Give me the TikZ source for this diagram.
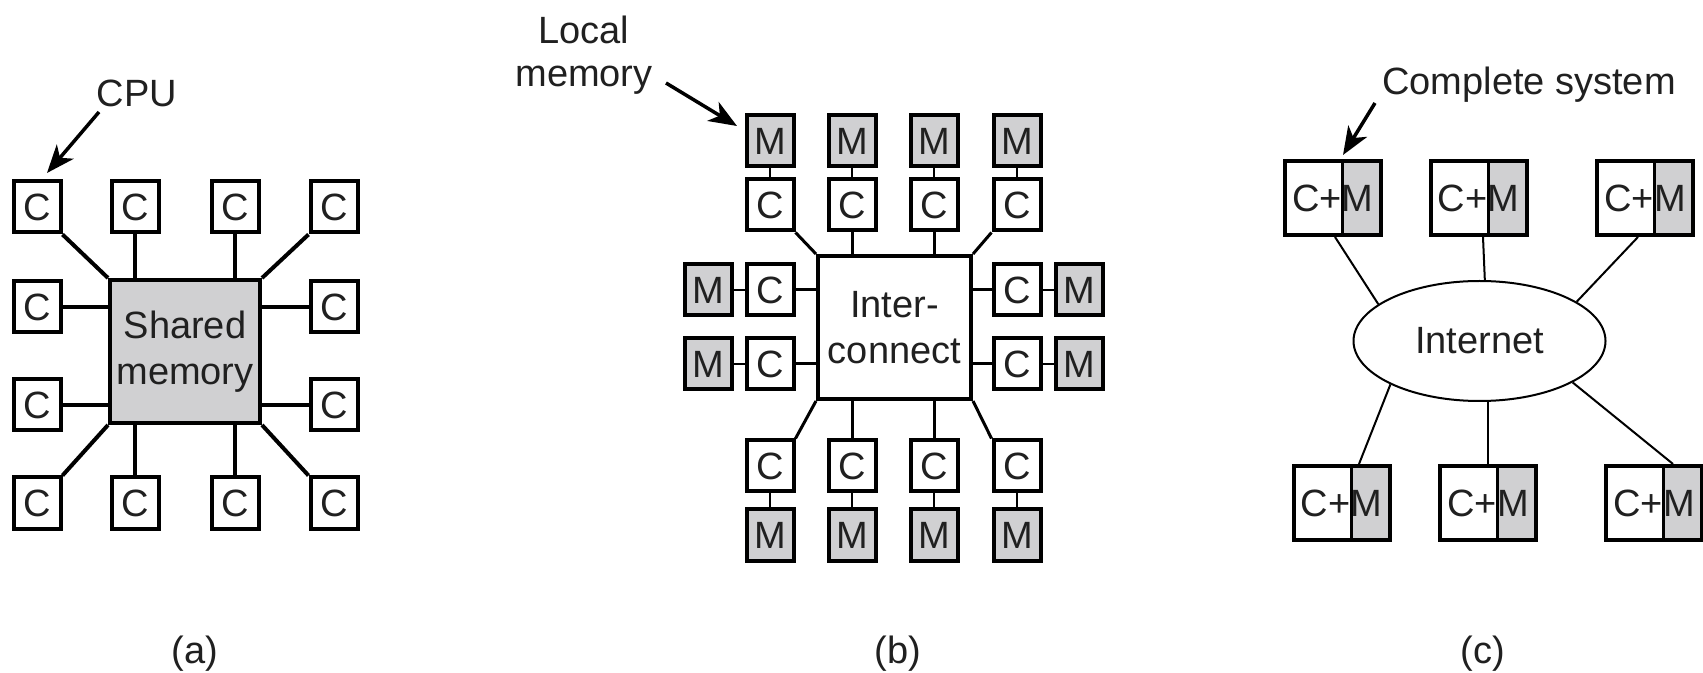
\documentclass[tikz,border=0pt]{standalone}
\usepackage{fontspec}
\setmainfont{Liberation Sans}
\usetikzlibrary{arrows.meta,shapes.geometric}
\definecolor{memgray}{RGB}{208,208,210}
\definecolor{inkcol}{RGB}{32,32,32}

\begin{document}
\begin{tikzpicture}[x=0.5pt,y=-0.5pt,
  every node/.style={font=\fontsize{19}{23}\selectfont, text=inkcol},
  unit/.style={draw, line width=2pt, inner sep=0pt, minimum width=23.5pt, minimum height=25.5pt},
  cpu/.style={unit, fill=white},
  mem/.style={unit, fill=memgray},
  hub/.style={draw, line width=2pt, inner sep=0pt, minimum height=71.5pt, align=center},
  thickwire/.style={line width=2pt},
  wire/.style={line width=1.5pt},
  thinwire/.style={line width=1pt},
  pointer/.style={line width=1.75pt, -{Stealth[length=14pt,width=11pt,inset=4pt]}},
  sysbox/.style={draw, line width=2pt, inner sep=0pt, minimum width=48pt, minimum height=37pt,
    path picture={
      \fill[memgray] ([xshift=4.75pt]path picture bounding box.north) rectangle (path picture bounding box.south east);
      \draw[line width=1.5pt] ([xshift=4.75pt]path picture bounding box.north) -- ([xshift=4.75pt]path picture bounding box.south);
    }},
  caption/.style={anchor=base},
]
\fill[white] (0,0) rectangle (1703,673);
\useasboundingbox (0,0) rectangle (1703,673);

% ---------- (a) shared-memory multiprocessor ----------
\node[hub, fill=memgray, minimum width=75pt] (shm) at (185,351.5) {Shared\\memory};
\foreach \i/\x in {1/37,2/135,3/235,4/334}{
  \node[cpu] (a1\i) at (\x,207) {C};
  \node[cpu] (a4\i) at (\x,503) {C};
}
\node[cpu] (a21) at (37,307) {C};
\node[cpu] (a24) at (334,307) {C};
\node[cpu] (a31) at (37,405) {C};
\node[cpu] (a34) at (334,405) {C};

\draw[thickwire] (a11.south east) -- (shm.north west);
\draw[thickwire] (a12.south) -- (a12.south |- shm.north);
\draw[thickwire] (a13.south) -- (a13.south |- shm.north);
\draw[thickwire] (a14.south west) -- (shm.north east);
\draw[thickwire] (a21.east) -- (a21.east -| shm.west);
\draw[thickwire] (a31.east) -- (a31.east -| shm.west);
\draw[thickwire] (a24.west) -- (a24.west -| shm.east);
\draw[thickwire] (a34.west) -- (a34.west -| shm.east);
\draw[thickwire] (a41.north east) -- (shm.south west);
\draw[thickwire] (a42.north) -- (a42.north |- shm.south);
\draw[thickwire] (a43.north) -- (a43.north |- shm.south);
\draw[thickwire] (a44.north west) -- (shm.south east);

\node[anchor=base] (cpulbl) at (137,107) {CPU};
\coordinate (cputail) at (99,112);
\coordinate (cputip) at (47,173);
\draw[pointer] (cputail) -- (cputip);

\node[caption] (capa) at (195,663) {(a)};

% ---------- (b) message-passing multicomputer ----------
\node[hub, fill=white, minimum width=76.5pt] (ic) at (894.5,327.5) {Inter-\\connect};
\foreach \i/\x in {1/770,2/852,3/934,4/1017}{
  \node[mem] (bmt\i) at (\x,141) {M};
  \node[cpu] (bct\i) at (\x,205) {C};
  \node[cpu] (bcb\i) at (\x,466) {C};
  \node[mem] (bmb\i) at (\x,535) {M};
  \draw[thinwire] (bmt\i.south) -- (bct\i.north);
  \draw[thinwire] (bcb\i.south) -- (bmb\i.north);
}
\foreach \i/\y in {1/290,2/364}{
  \node[cpu] (bcl\i) at (770,\y) {C};
  \node[mem] (bml\i) at (708,\y) {M};
  \node[cpu] (bcr\i) at (1017,\y) {C};
  \node[mem] (bmr\i) at (1079,\y) {M};
  \draw[thinwire] (bml\i.east) -- (bcl\i.west);
  \draw[thinwire] (bcr\i.east) -- (bmr\i.west);
  \draw[wire] (bcl\i.east) -- (bcl\i.east -| ic.west);
  \draw[wire] (bcr\i.west) -- (bcr\i.west -| ic.east);
}
\draw[wire] (bct1.south east) -- (ic.north west);
\draw[wire] (bct2.south) -- (bct2.south |- ic.north);
\draw[wire] (bct3.south) -- (bct3.south |- ic.north);
\draw[wire] (bct4.south west) -- (ic.north east);
\draw[wire] (bcb1.north east) -- (ic.south west);
\draw[wire] (bcb2.north) -- (bcb2.north |- ic.south);
\draw[wire] (bcb3.north) -- (bcb3.north |- ic.south);
\draw[wire] (bcb4.north west) -- (ic.south east);

\node[align=center, font=\fontsize{19}{21.5}\selectfont] (lmlbl) at (584,55) {Local\\memory};
\coordinate (lmtail) at (666,83);
\coordinate (lmtip) at (737,126);
\draw[pointer] (lmtail) -- (lmtip);

\node[caption] (capb) at (898,663) {(b)};

% ---------- (c) distributed system ----------
\node[draw, ellipse, line width=1pt, inner sep=0pt, minimum width=126pt, minimum height=60pt] (inet) at (1479.5,341) {Internet};
\node[sysbox] (st1) at (1333,198) {C+M};
\node[sysbox] (st2) at (1478.5,198) {C+M};
\node[sysbox] (st3) at (1645,198) {C+M};
\node[sysbox] (sb1) at (1341.5,503) {C+M};
\node[sysbox] (sb2) at (1488,503) {C+M};
\node[sysbox] (sb3) at (1654,503) {C+M};

\draw[thinwire] ([xshift=1pt]st1.south) -- (inet.160);
\draw[thinwire] ([xshift=2.25pt]st2.south) -- (inet.85);
\draw[thinwire] ([xshift=-3.5pt]st3.south) -- (inet.22);
\draw[thinwire] (inet.206) -- ([xshift=8.75pt]sb1.north);
\draw[thinwire] (sb2.north |- inet.south) -- (sb2.north);
\draw[thinwire] (inet.336) -- ([xshift=9.5pt]sb3.north);

\node[anchor=base] (cslbl) at (1529,95) {Complete system};
\coordinate (cstail) at (1375,103);
\coordinate (cstip) at (1343,155);
\draw[pointer] (cstail) -- (cstip);

\node[caption] (capc) at (1483,663) {(c)};
\end{tikzpicture}
\end{document}
